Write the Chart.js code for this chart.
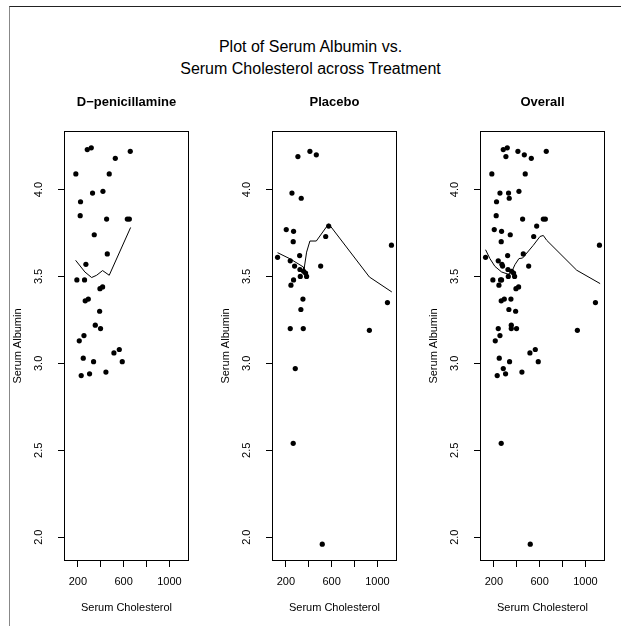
<!DOCTYPE html>
<html>
<head>
<meta charset="utf-8">
<script src="https://cdn.jsdelivr.net/npm/chart.js@4/dist/chart.umd.min.js"></script>
<style>
  html, body { margin: 0; padding: 0; background: #fff; }
  #wrap { position: relative; width: 621px; height: 626px; overflow: hidden; background: #fff; }
  #frame { position: absolute; left: 9px; top: 6px; width: 640px; height: 640px;
           border-top: 1px solid #222; border-left: 1px solid #888; }
  #title { position: absolute; left: 0; width: 621px; top: 36px; text-align: center;
           font-family: "Liberation Sans", Arial, Helvetica, sans-serif; font-size: 16px;
           line-height: 22px; color: #000; }
  canvas { position: absolute; }
</style>
</head>
<body>
<div id="wrap">
  <div id="frame"></div>
  <div id="title">Plot of Serum Albumin vs.<br>Serum Cholesterol across Treatment</div>
  <canvas id="c1" width="188" height="535" style="left:5px;top:85px"></canvas>
  <canvas id="c2" width="188" height="535" style="left:213px;top:85px"></canvas>
  <canvas id="c3" width="188" height="535" style="left:421px;top:85px"></canvas>
</div>
<script>
// ---- data ----
const panelNames = ["D\u2212penicillamine", "Placebo", "Overall"];

const dpenChol = [182, 282, 317, 527, 658, 474, 328, 419, 223, 220, 451, 632, 650, 343, 457, 270, 191, 258, 393, 416, 264, 291, 390, 352, 398, 212, 253, 247, 337, 515, 562, 588, 229, 302, 445];
const dpenAlb  = [4.09, 4.23, 4.24, 4.18, 4.22, 4.09, 3.98, 3.99, 3.93, 3.85, 3.83, 3.83, 3.83, 3.74, 3.63, 3.57, 3.48, 3.48, 3.43, 3.44, 3.36, 3.37, 3.30, 3.22, 3.20, 3.13, 3.16, 3.03, 3.01, 3.06, 3.08, 3.01, 2.93, 2.94, 2.95];

const plaChol = [127, 203, 238, 244, 238, 253, 267, 264, 267, 276, 282, 264, 305, 320, 323, 326, 331, 334, 349, 352, 355, 372, 381, 410, 466, 504, 518, 548, 574, 930, 1088, 1123];
const plaAlb  = [3.61, 3.77, 3.59, 3.45, 3.20, 3.98, 3.76, 3.70, 3.48, 3.56, 2.97, 2.54, 4.19, 3.62, 3.54, 3.50, 3.31, 3.95, 3.37, 3.20, 3.53, 3.52, 3.50, 4.22, 4.20, 3.56, 1.96, 3.73, 3.79, 3.19, 3.35, 3.68];

// smoother lines
const dpenSmoothX = [180, 261, 320, 364, 416, 474, 661];
const dpenSmoothY = [3.593, 3.526, 3.494, 3.507, 3.534, 3.507, 3.782];
const plaSmoothX  = [127, 235, 352, 358, 381, 410, 466, 574, 930, 1126];
const plaSmoothY  = [3.637, 3.602, 3.555, 3.539, 3.640, 3.704, 3.704, 3.803, 3.497, 3.411];
const allSmoothX  = [127, 165, 209, 267, 325, 355, 384, 419, 451, 544, 603, 632, 662, 924, 1129];
const allSmoothY  = [3.654, 3.603, 3.558, 3.526, 3.513, 3.526, 3.568, 3.603, 3.606, 3.679, 3.730, 3.736, 3.708, 3.536, 3.459];

const xTicks = [200, 400, 600, 800, 1000];
const xTickLabels = [200, 600, 1000];
const yTicks = [2.0, 2.5, 3.0, 3.5, 4.0];

const allChol = dpenChol.concat(plaChol);
const allAlb = dpenAlb.concat(plaAlb);

// R style 4% axis extension
function rRange(arr) {
  const lo = Math.min(...arr), hi = Math.max(...arr), d = (hi - lo) * 0.04;
  return [lo - d, hi + d];
}
const xlim = rRange(allChol);
const ylim = rRange(allAlb);

const FONT = '"Liberation Sans", Arial, Helvetica, sans-serif';
Chart.defaults.font.family = FONT;
Chart.defaults.color = '#000';

const boxPlugin = {
  id: 'box',
  afterDatasetsDraw(chart) {
    const a = chart.chartArea, ctx = chart.ctx;
    ctx.save();
    ctx.strokeStyle = '#000';
    ctx.lineWidth = 1;
    ctx.strokeRect(Math.round(a.left) - 0.5, Math.round(a.top) - 0.5,
                   Math.round(a.right - a.left) + 1, Math.round(a.bottom - a.top) + 1);
    ctx.restore();
  }
};

function makePanel(id, name, xs, ys, sx, sy) {
  const pts = xs.map((x, i) => ({x: x, y: ys[i]}));
  const line = sx.map((x, i) => ({x: x, y: sy[i]}));
  new Chart(document.getElementById(id), {
    type: 'scatter',
    data: {
      datasets: [
        { data: pts, showLine: false, pointRadius: 2.6, pointHoverRadius: 2.6,
          pointBackgroundColor: '#000', pointBorderWidth: 0, pointBorderColor: '#000' },
        { data: line, showLine: true, pointRadius: 0, borderColor: '#000',
          borderWidth: 1, tension: 0, fill: false }
      ]
    },
    options: {
      responsive: false, animation: false, devicePixelRatio: 1,
      layout: { padding: { left: 0, right: 5, top: 0, bottom: 0 } },
      plugins: { legend: { display: false }, tooltip: { enabled: false }, title: { display: false } },
      scales: {
        x: {
          type: 'linear', position: 'bottom', min: xlim[0], max: xlim[1],
          afterBuildTicks: s => { s.ticks = xTicks.map(v => ({value: v})); },
          afterFit: s => { s.height = 60; },
          ticks: { autoSkip: false, minRotation: 0, maxRotation: 0, padding: 8,
                   font: { size: 11 }, color: '#000',
                   callback: v => xTickLabels.includes(v) ? String(v) : '' },
          grid: { drawOnChartArea: false, drawTicks: true, tickLength: 7,
                  color: '#000', tickColor: '#000', lineWidth: 1 },
          border: { display: false },
          title: { display: true, text: 'Serum Cholesterol', font: { size: 11 }, color: '#000',
                   padding: { top: 0, bottom: 5 } }
        },
        y: {
          type: 'linear', position: 'left', min: ylim[0], max: ylim[1],
          afterBuildTicks: s => { s.ticks = yTicks.map(v => ({value: v})); },
          afterFit: s => { s.width = 60; },
          ticks: { autoSkip: false, minRotation: 90, maxRotation: 90, crossAlign: 'center',
                   padding: 11, font: { size: 11 }, color: '#000',
                   callback: v => v.toFixed(1) },
          grid: { drawOnChartArea: false, drawTicks: true, tickLength: 7,
                  color: '#000', tickColor: '#000', lineWidth: 1 },
          border: { display: false },
          title: { display: true, text: 'Serum Albumin', font: { size: 11 }, color: '#000',
                   padding: { top: 6, bottom: 0 } }
        },
        t: {
          type: 'linear', position: 'top', display: true,
          afterFit: s => { s.height = 47; },
          ticks: { display: false },
          grid: { display: false, drawTicks: false },
          border: { display: false },
          title: { display: true, text: name, color: '#000',
                   font: { size: 13, weight: 'bold' }, padding: { top: 10, bottom: 0 } }
        }
      }
    },
    plugins: [boxPlugin]
  });
}

makePanel('c1', panelNames[0], dpenChol, dpenAlb, dpenSmoothX, dpenSmoothY);
makePanel('c2', panelNames[1], plaChol, plaAlb, plaSmoothX, plaSmoothY);
makePanel('c3', panelNames[2], allChol, allAlb, allSmoothX, allSmoothY);
</script>
</body>
</html>
